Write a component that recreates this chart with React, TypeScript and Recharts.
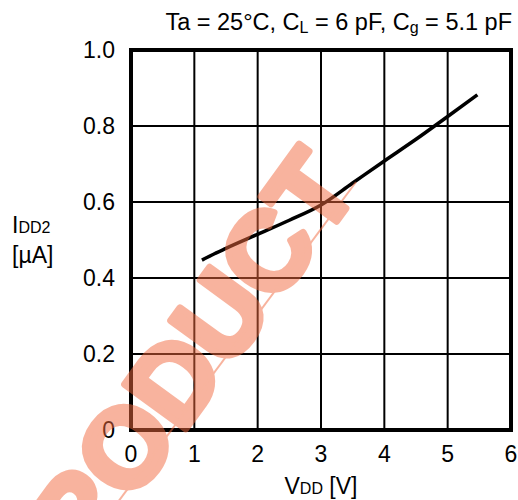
import { LineChart, Line, XAxis, YAxis, CartesianGrid, ReferenceArea } from 'recharts';

// I_DD2 vs V_DD, Ta = 25°C
const vdd = [1.12, 1.27, 1.5, 2.0, 2.5, 3.0, 3.5, 4.0, 4.5, 5.0, 5.47];
const idd2 = [0.447, 0.46, 0.478, 0.515, 0.552, 0.592, 0.65, 0.708, 0.765, 0.825, 0.882];

const xTicks = [0, 1, 2, 3, 4, 5, 6];
const yTicks = [0, 0.2, 0.4, 0.6, 0.8, 1.0];

const data = vdd.map((v, i) => ({ v, i: idd2[i] }));

const font = 'Arial, "Liberation Sans", sans-serif';

export default function App() {
  return (
    <div style={{ position: 'absolute', left: 0, top: 0, width: 518, height: 500, background: '#fff', fontFamily: font }}>
      <LineChart width={518} height={500} data={data} margin={{ top: 50, right: 7, bottom: 0, left: 0 }}>
        <CartesianGrid stroke="#000" strokeWidth={2} />
        <XAxis
          dataKey="v"
          type="number"
          domain={[0, 6]}
          ticks={xTicks}
          tickLine={false}
          axisLine={false}
          tickSize={0}
          tickMargin={16}
          tick={{ fill: '#000', fontSize: 23, fontFamily: font }}
          height={70}
        />
        <YAxis
          type="number"
          domain={[0, 1]}
          ticks={yTicks}
          tickFormatter={(t: number) => (t === 0 ? '0' : t.toFixed(1))}
          tickLine={false}
          axisLine={false}
          tickSize={0}
          tickMargin={16}
          tick={{ fill: '#000', fontSize: 23, fontFamily: font }}
          width={131}
        />
        <ReferenceArea x1={0} x2={6} y1={0} y2={1} fill="none" fillOpacity={0} stroke="#000" strokeWidth={4} />
        <Line
          dataKey="i"
          type="monotone"
          stroke="#000"
          strokeWidth={3.5}
          dot={false}
          isAnimationActive={false}
        />
      </LineChart>
      <svg width={518} height={500} style={{ position: 'absolute', left: 0, top: 0, pointerEvents: 'none' }}>
        <text x={512} y={30} textAnchor="end" fontSize={23.5} fontFamily={font} fill="#000">
          Ta = 25°C, C<tspan fontSize={16} dy={3}>L</tspan><tspan dy={-3}> = 6 pF, C</tspan>
          <tspan fontSize={16} dy={3}>g</tspan><tspan dy={-3}> = 5.1 pF</tspan>
        </text>
        <text x={12} y={233} fontSize={23} fontFamily={font} fill="#000">
          I<tspan fontSize={16}>DD2</tspan>
        </text>
        <text x={12} y={263} fontSize={23} fontFamily={font} fill="#000">[µA]</text>
        <text x={321} y={494} textAnchor="middle" fontSize={23} fontFamily={font} fill="#000">
          V<tspan fontSize={16}>DD</tspan> [V]
        </text>
        <g opacity={0.5}>
          <text
            x={170}
            y={385}
            textAnchor="middle"
            dominantBaseline="central"
            fontSize={110}
            fontWeight="bold"
            fontFamily={font}
            fill="#f26a3f"
            stroke="#f26a3f"
            strokeWidth={7}
            strokeLinejoin="round"
            transform="rotate(-54 170 385)"
          >
            PRODUCT
          </text>
          <line x1={112} y1={510} x2={356} y2={182} stroke="#f26a3f" strokeWidth={2} />
        </g>
      </svg>
    </div>
  );
}
